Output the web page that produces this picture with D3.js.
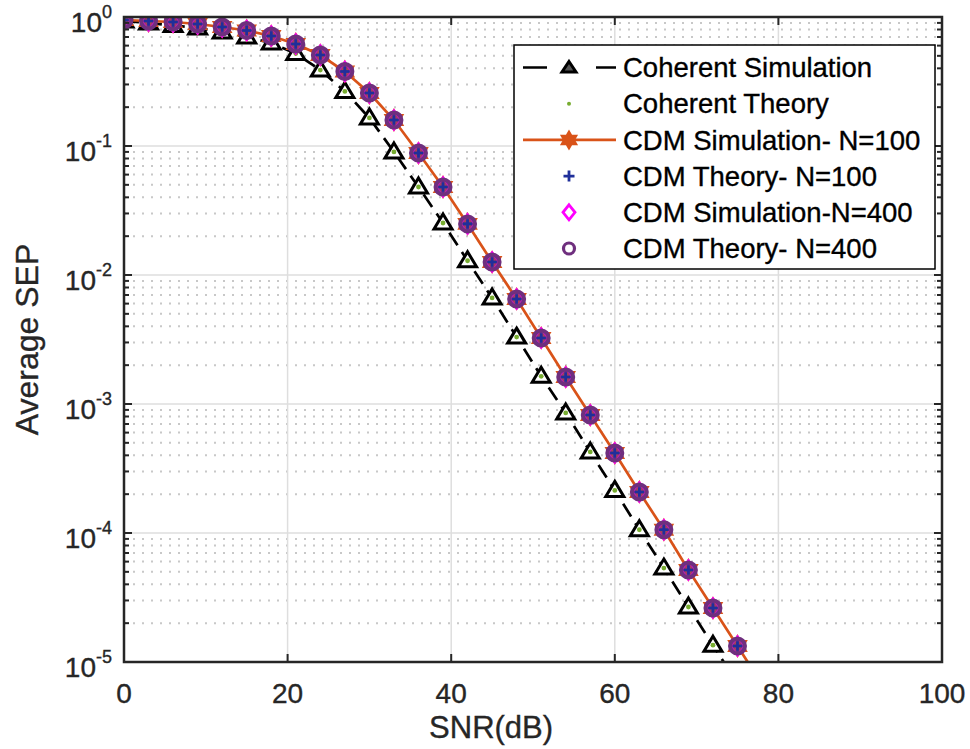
<!DOCTYPE html>
<html>
<head>
<meta charset="utf-8">
<script src="https://cdn.jsdelivr.net/npm/d3@7"></script>
<style>
  body { margin: 0; background: #fff; }
  text { font-family: "Liberation Sans", Arial, sans-serif; fill: #262626; stroke: #262626; stroke-width: 0.35px; }
</style>
</head>
<body>
<div id="chart_div"></div>
<script>
// set the dimensions and margins of the graph
var margin = {
    top: 17,
    right: 28,
    bottom: 87,
    left: 124
  },
  width = 970 - margin.left - margin.right,
  height = 749 - margin.top - margin.bottom;

// snr points (dB)
var snr = [0, 3, 6, 9, 12, 15, 18, 21, 24, 27, 30, 33, 36, 39, 42, 45, 48, 51, 54, 57, 60, 63, 66, 69, 72, 75, 78];

// coherent detection, simulation and theory
var coherentSim = [0.931, 0.898, 0.859, 0.822, 0.765, 0.700, 0.629, 0.521, 0.388, 0.265, 0.165, 0.0899, 0.0481,
  0.0253, 0.0129, 0.00664, 0.00330, 0.00164, 0.000853, 0.000425, 0.000214, 0.000106, 5.35e-5, 2.67e-5, 1.35e-5, 6.8e-6];
var coherentTheory = [0.931, 0.898, 0.859, 0.822, 0.765, 0.700, 0.629, 0.521, 0.388, 0.265, 0.165, 0.0899, 0.0481,
  0.0253, 0.0129, 0.00664, 0.00330, 0.00164, 0.000853, 0.000425, 0.000214, 0.000106, 5.35e-5, 2.67e-5, 1.35e-5, 6.8e-6];

// cdm curves
var cdmSim100 = [0.948, 0.931, 0.915, 0.883, 0.837, 0.786, 0.712, 0.618, 0.507, 0.378, 0.2576, 0.159, 0.0882, 0.0481,
  0.0249, 0.0126, 0.00652, 0.00325, 0.00162, 0.000822, 0.000417, 0.000208, 0.000106, 5.17e-5, 2.62e-5, 1.33e-5, 6.7e-6];
var cdmTheory100 = [0.948, 0.931, 0.915, 0.883, 0.837, 0.786, 0.712, 0.618, 0.507, 0.378, 0.2576, 0.159, 0.0882, 0.0481,
  0.0249, 0.0126, 0.00652, 0.00325, 0.00162, 0.000822, 0.000417, 0.000208, 0.000106, 5.17e-5, 2.62e-5, 1.33e-5, 6.7e-6];
var cdmSim400 = [0.948, 0.931, 0.915, 0.883, 0.837, 0.786, 0.712, 0.618, 0.507, 0.378, 0.2576, 0.159, 0.0882, 0.0481,
  0.0249, 0.0126, 0.00652, 0.00325, 0.00162, 0.000822, 0.000417, 0.000208, 0.000106, 5.17e-5, 2.62e-5, 1.33e-5, 6.7e-6];
var cdmTheory400 = [0.948, 0.931, 0.915, 0.883, 0.837, 0.786, 0.712, 0.618, 0.507, 0.378, 0.2576, 0.159, 0.0882, 0.0481,
  0.0249, 0.0126, 0.00652, 0.00325, 0.00162, 0.000822, 0.000417, 0.000208, 0.000106, 5.17e-5, 2.62e-5, 1.33e-5, 6.7e-6];

var xTicks = [0, 20, 40, 60, 80, 100];
var yTicks = [1, 1e-1, 1e-2, 1e-3, 1e-4, 1e-5];
var yTickExp = ["0", "-1", "-2", "-3", "-4", "-5"];
var legendNames = ["Coherent Simulation", "Coherent Theory", "CDM Simulation- N=100", "CDM Theory- N=100",
  "CDM Simulation-N=400", "CDM Theory- N=400"];

var axisColor = "#262626";
var orange = "#D95319";

// append the svg object to the body of the page
var svg = d3
  .select("#chart_div")
  .append("svg")
  .attr("width", width + margin.left + margin.right)
  .attr("height", height + margin.top + margin.bottom)
  .append("g")
  .attr("transform", "translate(" + margin.left + ", " + margin.top + ")");

var x = d3.scaleLinear().domain([0, 100]).range([0, width]);
var y = d3.scaleLog().domain([1e-5, 1]).range([height, 0]);

var minorTicks = y.ticks().filter(function(d) {
  return yTicks.indexOf(d) < 0;
});

// grid
svg.append("g")
  .selectAll("line")
  .data(minorTicks)
  .enter()
  .append("line")
  .attr("x1", 0)
  .attr("x2", width)
  .attr("y1", function(d) { return y(d); })
  .attr("y2", function(d) { return y(d); })
  .attr("stroke", "#c8c8c8")
  .attr("stroke-width", 2)
  .attr("stroke-dasharray", "2,7");

svg.append("g")
  .selectAll("line")
  .data(yTicks)
  .enter()
  .append("line")
  .attr("x1", 0)
  .attr("x2", width)
  .attr("y1", function(d) { return y(d); })
  .attr("y2", function(d) { return y(d); })
  .attr("stroke", "#dedede")
  .attr("stroke-width", 1.5);

svg.append("g")
  .selectAll("line")
  .data(xTicks)
  .enter()
  .append("line")
  .attr("x1", function(d) { return x(d); })
  .attr("x2", function(d) { return x(d); })
  .attr("y1", 0)
  .attr("y2", height)
  .attr("stroke", "#dedede")
  .attr("stroke-width", 1.5);

// clip for the curves
svg.append("clipPath")
  .attr("id", "plotclip")
  .append("rect")
  .attr("width", width)
  .attr("height", height);

var plot = svg.append("g").attr("clip-path", "url(#plotclip)");

function toPoints(values) {
  return values.map(function(v, i) {
    return { s: snr[i], v: v };
  });
}
function inside(d) {
  return d.v >= 1e-5;
}

var line = d3.line()
  .x(function(d) { return x(d.s); })
  .y(function(d) { return y(d.v); });

// marker shapes
var trianglePath = "M0,-9L9,6L-9,6Z";
function hexagram(R) {
  var r = R / Math.sqrt(3), p = [];
  for (var k = 0; k < 12; k++) {
    var a = -Math.PI / 2 + k * Math.PI / 6;
    var rr = k % 2 === 0 ? R : r;
    p.push([rr * Math.cos(a), rr * Math.sin(a)]);
  }
  return "M" + p.join("L") + "Z";
}
var plusPath = "M-6,0H6M0,-6V6";
var diamondPath = "M0,-9.5L7,0L0,9.5L-7,0Z";

function drawMarkers(values, path, stroke, sw, fill) {
  plot.append("g")
    .selectAll("path")
    .data(toPoints(values).filter(inside))
    .enter()
    .append("path")
    .attr("transform", function(d) {
      return "translate(" + x(d.s) + "," + y(d.v) + ")";
    })
    .attr("d", path)
    .attr("fill", fill || "none")
    .attr("stroke", stroke)
    .attr("stroke-width", sw)
    .attr("stroke-linejoin", "miter");
}

// coherent simulation
plot.append("path")
  .datum(toPoints(coherentSim))
  .attr("d", line)
  .attr("fill", "none")
  .attr("stroke", "#000")
  .attr("stroke-width", 2.7)
  .attr("stroke-dasharray", "15,8");
drawMarkers(coherentSim, trianglePath, "#000", 3, "#fff");

// coherent theory (dots)
plot.append("g")
  .selectAll("circle")
  .data(toPoints(coherentTheory).filter(inside))
  .enter()
  .append("circle")
  .attr("cx", function(d) { return x(d.s); })
  .attr("cy", function(d) { return y(d.v); })
  .attr("r", 2.4)
  .attr("fill", "#77AC30");

// cdm simulation N=100
plot.append("path")
  .datum(toPoints(cdmSim100))
  .attr("d", line)
  .attr("fill", "none")
  .attr("stroke", orange)
  .attr("stroke-width", 2.7);
drawMarkers(cdmSim100, hexagram(9.5), orange, 2.4, orange);

drawMarkers(cdmTheory100, plusPath, "#1f2f9a", 2.6);
drawMarkers(cdmSim400, diamondPath, "#ff00ff", 2.4);

plot.append("g")
  .selectAll("circle")
  .data(toPoints(cdmTheory400).filter(inside))
  .enter()
  .append("circle")
  .attr("cx", function(d) { return x(d.s); })
  .attr("cy", function(d) { return y(d.v); })
  .attr("r", 7.5)
  .attr("fill", "#7E2F8E")
  .attr("fill-opacity", 0.55)
  .attr("stroke", "#6f2f7e")
  .attr("stroke-width", 4);

// plus again on top so it shows inside the circles
drawMarkers(cdmTheory100, "M-4.5,0H4.5M0,-4.5V4.5", "#1f2f9a", 2.6);

// axes box and ticks
svg.append("rect")
  .attr("width", width)
  .attr("height", height)
  .attr("fill", "none")
  .attr("stroke", axisColor)
  .attr("stroke-width", 2.5);

var ticks = svg.append("g").attr("stroke", axisColor).attr("stroke-width", 2);
xTicks.forEach(function(d) {
  ticks.append("line").attr("x1", x(d)).attr("x2", x(d)).attr("y1", height).attr("y2", height - 8);
  ticks.append("line").attr("x1", x(d)).attr("x2", x(d)).attr("y1", 0).attr("y2", 8);
});
yTicks.forEach(function(d) {
  ticks.append("line").attr("x1", 0).attr("x2", 8).attr("y1", y(d)).attr("y2", y(d));
  ticks.append("line").attr("x1", width).attr("x2", width - 8).attr("y1", y(d)).attr("y2", y(d));
});
minorTicks.forEach(function(d) {
  ticks.append("line").attr("x1", 0).attr("x2", 5).attr("y1", y(d)).attr("y2", y(d));
  ticks.append("line").attr("x1", width).attr("x2", width - 5).attr("y1", y(d)).attr("y2", y(d));
});

// tick labels
svg.append("g")
  .selectAll("text")
  .data(xTicks)
  .enter()
  .append("text")
  .attr("x", function(d) { return x(d); })
  .attr("y", height + 41)
  .attr("text-anchor", "middle")
  .attr("font-size", "28px")
  .text(function(d) { return d; });

var yLab = svg.append("g")
  .selectAll("text")
  .data(yTicks)
  .enter()
  .append("text")
  .attr("x", -12)
  .attr("y", function(d) { return y(d) + 15; })
  .attr("text-anchor", "end")
  .attr("font-size", "28px");
yLab.append("tspan").text("10");
yLab.append("tspan")
  .attr("dy", -14)
  .attr("font-size", "18px")
  .text(function(d, i) { return yTickExp[i]; });

// axis titles
svg.append("text")
  .attr("x", x(45) - 1)
  .attr("y", height + 76)
  .attr("text-anchor", "middle")
  .attr("font-size", "31px")
  .text("SNR(dB)");

svg.append("text")
  .attr("transform", "translate(" + (-86) + "," + (height / 2) + ") rotate(-90)")
  .attr("text-anchor", "middle")
  .attr("font-size", "32px")
  .text("Average SEP");

// legend
var legend = svg.append("g").attr("transform", "translate(" + (514 - margin.left) + "," + (45 - margin.top) + ")");
legend.append("rect")
  .attr("width", 421)
  .attr("height", 224)
  .attr("fill", "#fff")
  .attr("stroke", "#000")
  .attr("stroke-width", 1.5);

var rows = legend.selectAll("g.row")
  .data(legendNames)
  .enter()
  .append("g")
  .attr("class", "row")
  .attr("transform", function(d, i) {
    return "translate(0," + (22.5 + i * 36.2) + ")";
  });

rows.append("text")
  .attr("x", 109)
  .attr("dy", "0.35em")
  .attr("font-size", "27.5px")
  .style("fill", "#000")
  .style("stroke", "#000")
  .text(function(d) { return d; });

rows.each(function(d, i) {
  var g = d3.select(this);
  if (i === 0) {
    g.append("line").attr("x1", 9).attr("x2", 102).attr("stroke", "#000")
      .attr("stroke-width", 2.7).attr("stroke-dasharray", "24,49,24");
    g.append("path").attr("transform", "translate(55,0)").attr("d", "M0,-6L7,4.5L-7,4.5Z")
      .attr("fill", "#555").attr("stroke", "#000").attr("stroke-width", 3);
  } else if (i === 1) {
    g.append("circle").attr("cx", 55).attr("r", 2).attr("fill", "#77AC30");
  } else if (i === 2) {
    g.append("line").attr("x1", 9).attr("x2", 102).attr("stroke", orange).attr("stroke-width", 2.7);
    g.append("path").attr("transform", "translate(55,0)").attr("d", hexagram(8.5))
      .attr("fill", orange).attr("stroke", orange).attr("stroke-width", 2);
  } else if (i === 3) {
    g.append("path").attr("transform", "translate(55,0)").attr("d", "M-5.5,0H5.5M0,-5.5V5.5")
      .attr("stroke", "#1f2f9a").attr("stroke-width", 2.8);
  } else if (i === 4) {
    g.append("path").attr("transform", "translate(55,0)").attr("d", "M0,-7.5L6,0L0,7.5L-6,0Z")
      .attr("fill", "none").attr("stroke", "#ff00ff").attr("stroke-width", 2.8);
  } else {
    g.append("circle").attr("cx", 55).attr("r", 5.5).attr("fill", "none")
      .attr("stroke", "#6f2f7e").attr("stroke-width", 3.2);
  }
});
</script>
</body>
</html>
